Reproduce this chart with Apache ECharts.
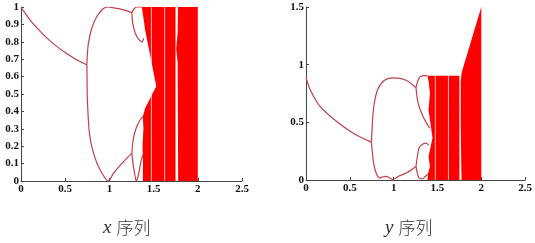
<!DOCTYPE html>
<html><head><meta charset="utf-8">
<script src="https://cdn.jsdelivr.net/npm/echarts@6/dist/echarts.min.js"></script>
<style>html,body{margin:0;padding:0;background:#fff}#c{width:535px;height:243px}</style>
</head><body><div id="c"></div>
<script>
// ---- axis ticks ----
const xTicks = [0, 0.5, 1, 1.5, 2, 2.5];
const yTicksX = [0, 0.1, 0.2, 0.3, 0.4, 0.5, 0.6, 0.7, 0.8, 0.9, 1];
const yTicksY = [0, 0.5, 1, 1.5];
const titles = ['x', 'y'];

// ---- x sequence: periodic branches [a, x] ----
const xP1 = [[0,1],[0.05,0.962],[0.1,0.928],[0.15,0.897],[0.22,0.858],[0.3,0.818],[0.4,0.775],[0.5,0.738],[0.6,0.705],[0.7,0.678],[0.745,0.667]];
const xP2Up = [[0.745,0.667],[0.75,0.72],[0.762,0.79],[0.80,0.878],[0.857,0.944],[0.929,0.99],[0.985,1.0],[1.05,0.995],[1.15,0.985],[1.254,0.968]];
const xP2Lo = [[0.745,0.667],[0.748,0.55],[0.751,0.466],[0.774,0.274],[0.82,0.16],[0.895,0.063],[0.99,0.0],[1.045,0.044],[1.14,0.1],[1.254,0.16]];
const xP4UpA = [[1.254,0.968],[1.28,0.99],[1.31,1.0],[1.367,1.0]];
const xP4UpB = [[1.254,0.968],[1.26,0.92],[1.28,0.87],[1.31,0.83],[1.34,0.81],[1.367,0.80],[1.39,0.82]];
const xP4LoA = [[1.254,0.16],[1.27,0.24],[1.30,0.30],[1.34,0.345],[1.378,0.37]];
const xP4LoB = [[1.254,0.16],[1.27,0.09],[1.29,0.03],[1.305,0.0],[1.33,0.04],[1.36,0.12],[1.378,0.15]];
// chaotic bands (outline vertices [a, x])
const xChaosMain = [[1.367,1],[1.748,1],[1.748,0],[1.378,0],[1.38,0.1],[1.375,0.2],[1.385,0.3],[1.378,0.37],[1.404,0.418],[1.53,0.545],[1.404,0.868],[1.39,0.92],[1.375,0.97]];
const xChaosRight = [[1.776,1],[2,1],[2,0],[1.778,0],[1.772,0.68],[1.756,0.76],[1.772,0.85]];

// ---- y sequence: periodic branches [a, y] ----
const yP1 = [[0,0.89],[0.049,0.78],[0.162,0.636],[0.35,0.507],[0.539,0.406],[0.746,0.328]];
const yP2Up = [[0.746,0.328],[0.755,0.45],[0.763,0.56],[0.782,0.68],[0.82,0.79],[0.896,0.865],[1.0,0.885],[1.142,0.865],[1.255,0.8]];
const yP2Lo = [[0.746,0.328],[0.76,0.22],[0.771,0.15],[0.80,0.06],[0.84,0.017],[0.88,0.028],[0.915,0.031],[0.95,0.02],[0.99,0.005],[1.05,0.03],[1.142,0.06],[1.255,0.118]];
const yP4UpA = [[1.255,0.8],[1.28,0.87],[1.31,0.9],[1.36,0.905],[1.387,0.903]];
const yP4UpB = [[1.255,0.8],[1.27,0.7],[1.29,0.637],[1.33,0.56],[1.37,0.5],[1.41,0.45]];
const yP4LoA = [[1.255,0.118],[1.27,0.2],[1.29,0.277],[1.33,0.31],[1.37,0.32],[1.40,0.3]];
const yP4LoB = [[1.255,0.118],[1.27,0.06],[1.29,0.017],[1.33,0.01],[1.36,0.03],[1.39,0.05]];
const yChaosMain = [[1.387,0.903],[1.75,0.903],[1.75,0],[1.387,0],[1.39,0.05],[1.414,0.118],[1.398,0.204],[1.443,0.364],[1.398,0.609],[1.414,0.753],[1.40,0.85]];
const yChaosRight = [[1.775,0],[2,0],[2,1.5],[1.775,0.93],[1.765,0.85],[1.765,0.5],[1.772,0.1]];

// periodic windows inside chaos (parameter a)
const windows = [1.475, 1.625];

const curveColor = '#c0404c';
const chaosColor = '#ff0000';

function curve(data, gi) {
  return {type:'line', xAxisIndex:gi, yAxisIndex:gi, data, showSymbol:false, smooth:0.3,
    lineStyle:{color:curveColor, width:1.2}, silent:true, z:3};
}
function poly(pts, gi) {
  return {type:'custom', xAxisIndex:gi, yAxisIndex:gi, data:[pts[0]], silent:true, z:2,
    renderItem:(params, api) => ({type:'polygon', shape:{points: pts.map(p => api.coord(p))},
      style:{fill:chaosColor, stroke:null}})};
}
function winLines(gi, top) {
  return windows.map(w => ({type:'line', xAxisIndex:gi, yAxisIndex:gi, data:[[w,0],[w,top]],
    showSymbol:false, silent:true, z:4, lineStyle:{color:'rgba(255,255,255,0.72)', width:1}}));
}

const labelStyle = {fontFamily:'Liberation Serif', fontWeight:'bold', fontSize:11, color:'#111'};
function xAxis(gi) {
  return {gridIndex:gi, type:'value', min:xTicks[0], max:xTicks[xTicks.length-1], interval:0.5,
    axisLine:{onZero:false, lineStyle:{color:'#444', width:1}}, axisTick:{inside:true, length:3, lineStyle:{color:'#444'}},
    splitLine:{show:false}, axisLabel:Object.assign({margin:3}, labelStyle)};
}
function yAxis(gi, ticks) {
  return {gridIndex:gi, type:'value', min:ticks[0], max:ticks[ticks.length-1], interval:ticks[1]-ticks[0],
    axisLine:{onZero:false, lineStyle:{color:'#444', width:1}}, axisTick:{inside:true, length:3, lineStyle:{color:'#444'}},
    splitLine:{show:false}, axisLabel:Object.assign({margin:2}, labelStyle)};
}

const chart = echarts.init(document.getElementById('c'), null, {renderer:'canvas'});
chart.setOption({
  animation:false,
  backgroundColor:'#fff',
  grid:[{left:21, top:7, width:221, height:174}, {left:306, top:7, width:221, height:173}],
  xAxis:[xAxis(0), xAxis(1)],
  yAxis:[yAxis(0, yTicksX), yAxis(1, yTicksY)],
  title: titles.map((t, i) => ({
    text:'{i|' + t + '} {c|序列}', left: i === 0 ? 98 : 380, top: 213,
    textStyle:{rich:{
      i:{fontFamily:'Liberation Serif', fontStyle:'italic', fontWeight:'normal', fontSize:19, color:'#333'},
      c:{fontFamily:'Noto Sans CJK SC', fontWeight:300, fontSize:17, color:'#333'}
    }}
  })),
  series:[
    poly(xChaosMain,0), poly(xChaosRight,0), ...winLines(0,1),
    curve(xP1,0), curve(xP2Up,0), curve(xP2Lo,0), curve(xP4UpA,0), curve(xP4UpB,0), curve(xP4LoA,0), curve(xP4LoB,0),
    poly(yChaosMain,1), poly(yChaosRight,1), ...winLines(1,0.903),
    curve(yP1,1), curve(yP2Up,1), curve(yP2Lo,1), curve(yP4UpA,1), curve(yP4UpB,1), curve(yP4LoA,1), curve(yP4LoB,1)
  ]
});
</script></body></html>
